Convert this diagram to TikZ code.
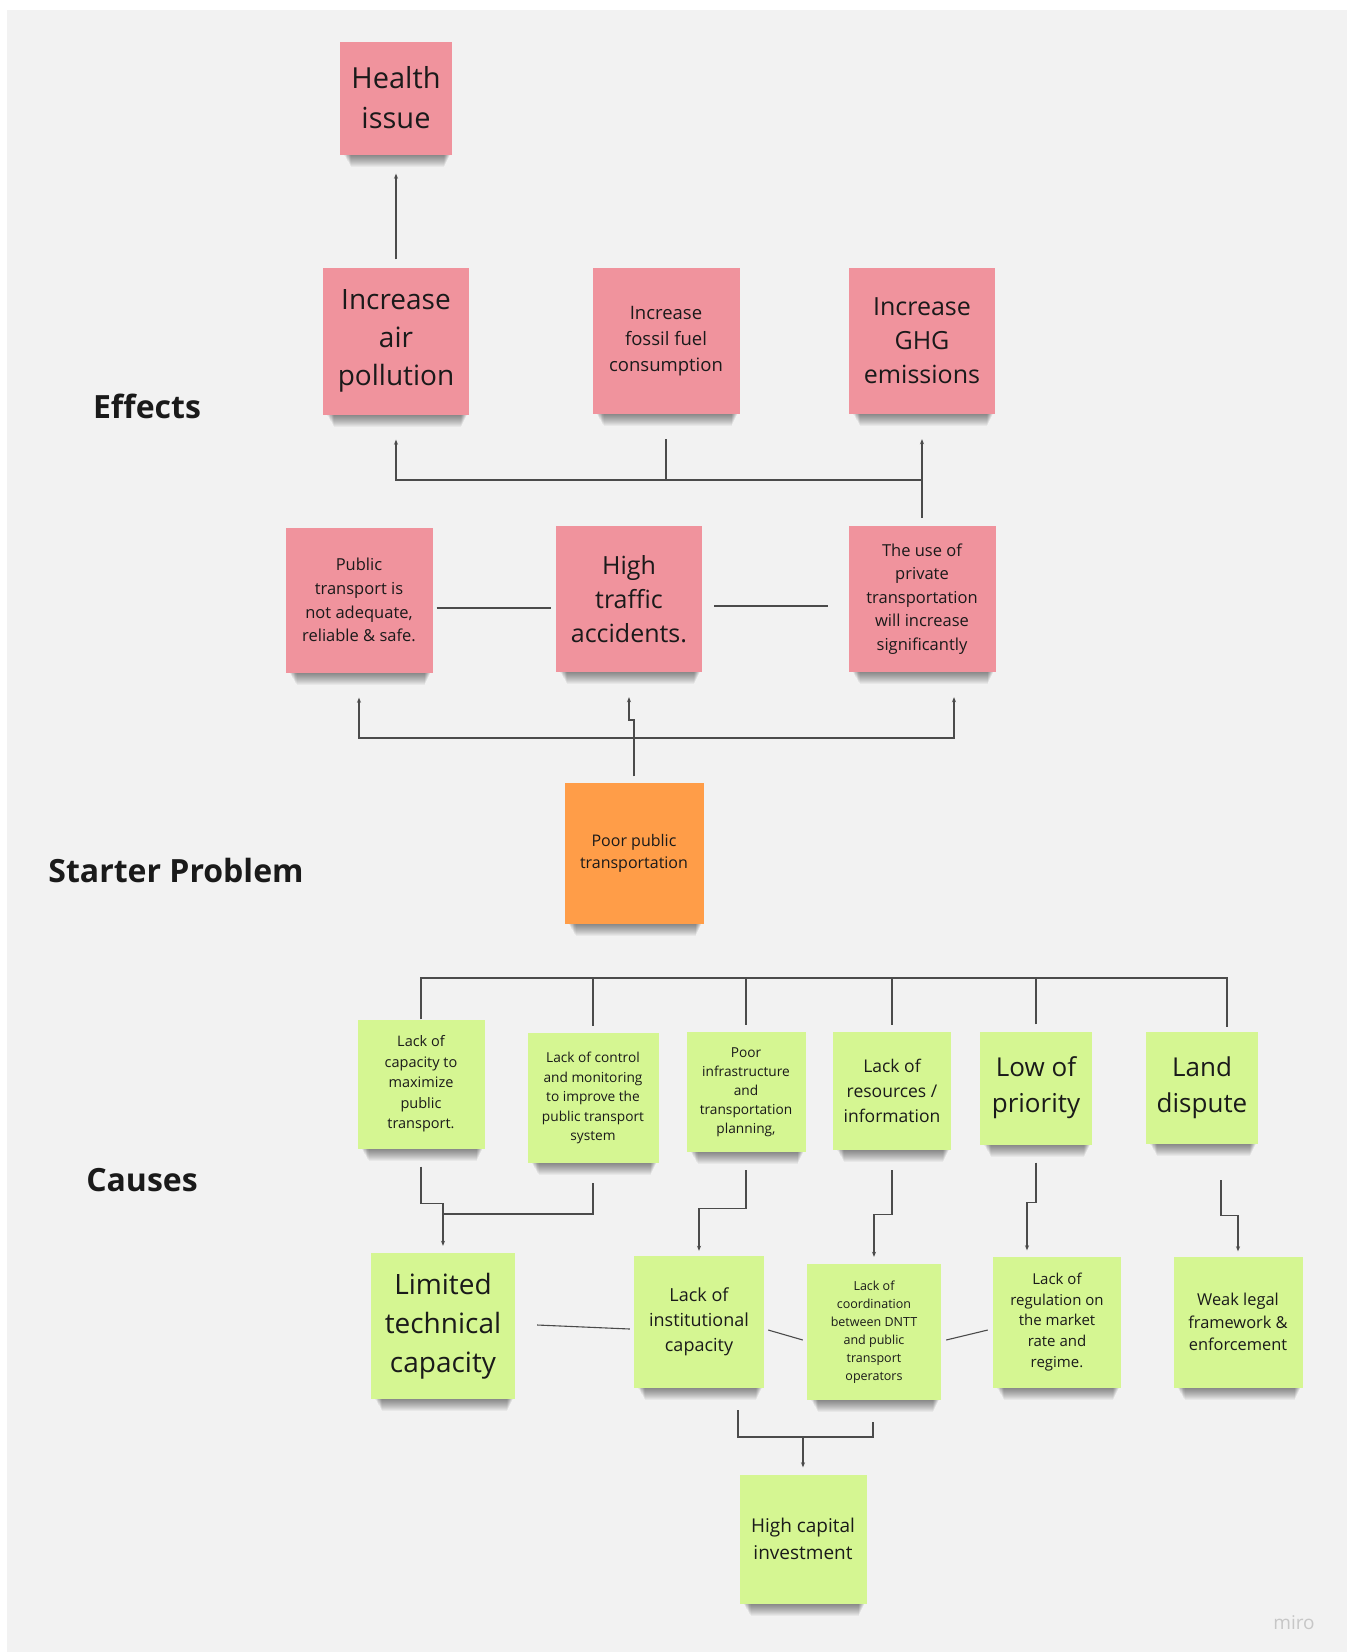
\documentclass[tikz,border=0pt]{standalone}
\usepackage{fontspec}
\setmainfont{Open Sans}
\usepackage{tikz}
\usetikzlibrary{calc,arrows.meta}

\definecolor{board}{RGB}{242,242,242}
\definecolor{notered}{RGB}{240,147,157}
\definecolor{noteorange}{RGB}{255,157,72}
\definecolor{notegreen}{RGB}{213,246,146}
\definecolor{ink}{RGB}{26,26,26}
\definecolor{wire}{RGB}{75,75,75}

\newcommand{\fs}[2]{\fontsize{#1}{#2}\selectfont}

\begin{document}
\begin{tikzpicture}[x=1pt, y=-1pt,
	note/.style={rectangle, inner sep=0pt, align=center, text=ink},
	rednote/.style={note, fill=notered},
	orangenote/.style={note, fill=noteorange},
	greennote/.style={note, fill=notegreen},
	heading/.style={font=\bfseries\fs{32}{40}, text=ink},
	shade/.style={fill=black, opacity=0.045},
	line/.style={draw=wire, line width=1.1pt},
	arr/.style={line, -{Stealth[length=5pt, width=4pt]}}]

\fill[white] (0,0) rectangle (1354,1652);
\fill[board] (7,10) rectangle (1347,1652);
\useasboundingbox (0,0) rectangle (1354,1652);

\node[heading] (effects) at (147,406) {Effects};
\node[heading] (starter) at (176,870) {Starter Problem};
\node[heading] (causes) at (142,1180) {Causes};

\node[rednote, minimum width=112, minimum height=113, font=\fs{29}{40}] (h) at (396,98) {Health\\issue};
\node[rednote, minimum width=146, minimum height=147, font=\fs{28}{38}] (e1) at (396,341) {Increase\\air\\pollution};
\node[rednote, minimum width=147, minimum height=146, font=\fs{18.5}{26}] (e2) at (666,341) {Increase\\fossil fuel\\consumption};
\node[rednote, minimum width=146, minimum height=146, font=\fs{25}{34}] (e3) at (922,341) {Increase\\GHG\\emissions};

\node[rednote, minimum width=147, minimum height=145, font=\fs{16.5}{23.7}] (p1) at (359,600) {Public\\transport is\\not adequate,\\reliable \& safe.};
\node[rednote, minimum width=146, minimum height=146, font=\fs{25}{34}] (p2) at (629,599) {High\\traffic\\accidents.};
\node[rednote, minimum width=147, minimum height=146, font=\fs{16.5}{23.5}] (p3) at (922,599) {The use of\\private\\transportation\\will increase\\significantly};

\node[orangenote, minimum width=139, minimum height=141, font=\fs{16}{22}] (o) at (634,853) {Poor public\\transportation};

\node[greennote, minimum width=127, minimum height=129, font=\fs{14.5}{20.5}] (c1) at (421,1084) {Lack of\\capacity to\\maximize\\public\\transport.};
\node[greennote, minimum width=131, minimum height=130, font=\fs{13.7}{19.5}] (c2) at (593,1098) {Lack of control\\and monitoring\\to improve the\\public transport\\system};
\node[greennote, minimum width=119, minimum height=120, font=\fs{13.7}{19}] (c3) at (746,1092) {Poor\\infrastructure\\and\\transportation\\planning,};
\node[greennote, minimum width=118, minimum height=118, font=\fs{17.5}{24.7}] (c4) at (892,1091) {Lack of\\resources /\\information};
\node[greennote, minimum width=112, minimum height=113, font=\fs{26}{36}] (c5) at (1036,1088) {Low of\\priority};
\node[greennote, minimum width=112, minimum height=112, font=\fs{26}{36}] (c6) at (1202,1088) {Land\\dispute};

\node[greennote, minimum width=144, minimum height=146, font=\fs{28}{39}] (d1) at (443,1326) {Limited\\technical\\capacity};
\node[greennote, minimum width=130, minimum height=132, font=\fs{18}{25}] (d2) at (699,1322) {Lack of\\institutional\\capacity};
\node[greennote, minimum width=134, minimum height=136, font=\fs{12.5}{18}] (d3) at (874,1332) {Lack of\\coordination\\between DNTT\\and public\\transport\\operators};
\node[greennote, minimum width=128, minimum height=131, font=\fs{15}{20.8}] (d4) at (1057,1322) {Lack of\\regulation on\\the market\\rate and\\regime.};
\node[greennote, minimum width=129, minimum height=131, font=\fs{16.4}{22.6}] (d5) at (1238,1322) {Weak legal\\framework \&\\enforcement};

\node[greennote, minimum width=127, minimum height=129, font=\fs{19}{27}] (f) at (803,1539) {High capital\\investment};

\node[text=black!22, font=\fs{19}{22}] (miro) at (1294,1623) {miro};

\foreach \n in {h,e1,e2,e3,p1,p2,p3,o,c1,c2,c3,c4,c5,c6,d1,d2,d3,d4,d5,f}
	\foreach \k in {1,...,12}
		\fill[shade] ($(\n.south west)+(4+\k*0.6,0)$) rectangle ($(\n.south east)+(-2-\k*0.5,\k)$);

\draw[arr, shorten >=19pt] ($(e1.north)+(0,-8)$) -- (h.south);

\coordinate (b1) at (922,480);
\draw[line] ($(p3.north)+(0,-8)$) -- (b1);
\draw[arr, shorten >=25pt] (b1) -- (e3.south);
\draw[arr, shorten >=25pt] (b1) -| (e1.south);
\draw[line, shorten >=25pt] (b1 -| e2.south) -- (e2.south);

\draw[line] ([yshift=-8pt]p1.east) ++(4,0) -- ($(p2.west |- p1.east)+(-5,8)$);
\draw[line] ([yshift=-7pt]p2.east) ++(12,0) -- ($(p3.west |- p2.east)+(-20,7)$);

\coordinate (b2) at (634,738);
\draw[line] ($(o.north)+(0,-6)$) -- (b2);
\draw[arr] (b2) -- ++(0,-18) -| ($(p2.south)+(0,25)$);
\draw[arr] (b2) -| ($(p1.south)+(0,25)$);
\draw[arr] (b2) -| ($(p3.south)+(32,25)$);

\coordinate (b3) at (421,978);
\coordinate (b4) at (1227,978);
\draw[line] (c1.north) -- (c1.north |- b3) -- (b4) -- ($(c6.north)+(25,-5)$);
\foreach \n in {c2,c3,c4,c5}
	\draw[line] ($(\n.north)+(0,-7)$) -- (\n.north |- b3);

\coordinate (b5) at (443,1214);
\draw[line] ($(c1.south)+(0,18)$) -- ++(0,37) -| (b5);
\draw[line] ($(c2.south)+(0,20)$) |- (b5);
\draw[arr, shorten >=7pt] (b5) -- (d1.north);
\draw[arr, shorten >=5pt] ($(c3.south)+(0,18)$) -- ++(0,38) -| (d2.north);
\draw[arr, shorten >=7pt] ($(c4.south)+(0,20)$) -- ++(0,44) -| (d3.north);
\draw[arr, shorten >=6pt] ($(c5.south)+(0,18)$) -- ++(0,40) -| ($(d4.north)+(-30,0)$);
\draw[arr, shorten >=5pt] ($(c6.south)+(19,36)$) -- ++(0,35) -| (d5.north);

\draw[line] ($(d1.east)+(22,-1)$) -- ($(d2.west)+(-4,7)$);
\draw[line] ($(d2.east)+(4,8)$) -- ($(d3.west)+(-4,8)$);
\draw[line] ($(d3.east)+(5,8)$) -- ($(d4.west)+(-5,8)$);

\coordinate (b6) at (803,1437);
\draw[line] ($(d2.south)+(39,22)$) |- (b6) -| ($(d3.south)+(-1,22)$);
\draw[arr, shorten >=7pt] (b6) -- (f.north);
\end{tikzpicture}
\end{document}
